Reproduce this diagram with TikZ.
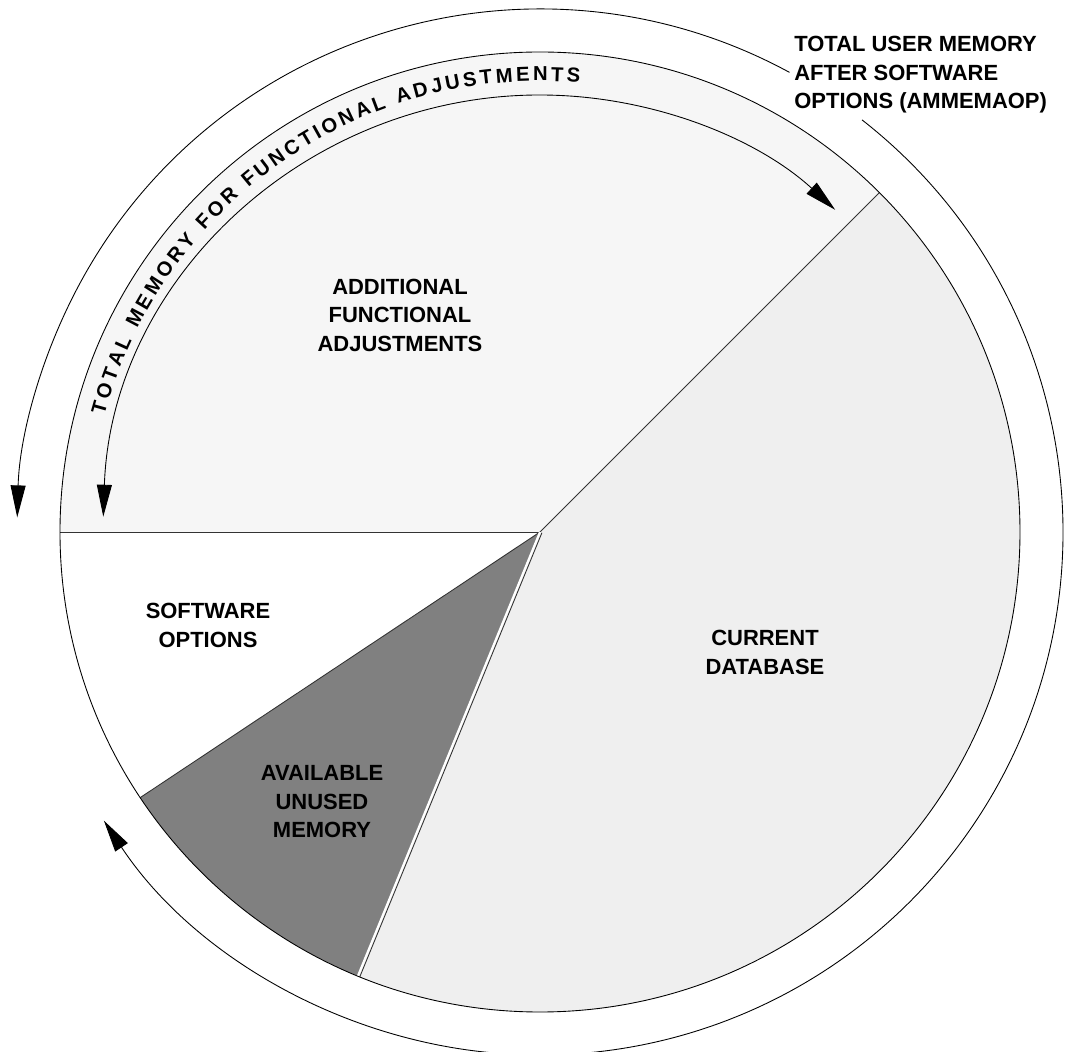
\documentclass[tikz,border=0pt]{standalone}
\usepackage{fontspec}
\setmainfont{Liberation Sans}
\usetikzlibrary{arrows.meta,decorations.text}
\definecolor{adjfill}{HTML}{F6F6F6}
\definecolor{dbfill}{HTML}{EFEFEF}
\definecolor{freefill}{HTML}{808080}
\begin{document}
\begin{tikzpicture}[x=0.2mm,y=0.2mm,
  >={Triangle[length=6.4mm,width=3mm]},
  edge/.style={draw=black!80,line width=0.5pt},
  label/.style={font=\bfseries\fontsize{12.5}{16.2}\selectfont,align=center,inner sep=0pt},
  bracket/.style={line width=0.5pt}]
\useasboundingbox (-540,-520) rectangle (526,532);

\coordinate (O) at (0,0);
\coordinate (e45) at (45:480);
\coordinate (e180) at (180:480);
\coordinate (e214) at (213.6:480);
\coordinate (e248) at (247.7:480);

% pie slices
\fill[adjfill] (O) -- (e45) arc[start angle=45,end angle=180,radius=480] -- cycle;
\fill[white] (O) -- (e180) arc[start angle=180,end angle=213.6,radius=480] -- cycle;
\fill[freefill] (O) -- (e214) arc[start angle=213.6,end angle=247.7,radius=480] -- cycle;
\fill[dbfill] (O) -- (e248) arc[start angle=247.7,end angle=405,radius=480] -- cycle;

\draw[edge] (O) -- (e45);
\draw[edge] (O) -- (e180);
\draw[edge] (O) -- (e214);
\draw[white,line width=1.2pt] (O) -- (e248);
\draw[edge] ([shift={(1.9,-0.8)}]O) -- ([shift={(1.9,-0.8)}]e248);
\draw[line width=0.5pt] (O) circle[radius=480];

% band text and arrows
\path[decorate,decoration={text along path,
  text={|\bfseries\fontsize{11.5}{11.5}\selectfont|TOTAL MEMORY FOR FUNCTIONAL ADJUSTMENTS},
  text align={fit to path}}]
  (165:451) arc[start angle=165,end angle=85,radius=451];
\draw[bracket,<->] (178:437) arc[start angle=178,end angle=47.5,radius=437];

% outer brackets
\draw[bracket,->] (52:523) arc[start angle=52,end angle=-146.5,radius=523];
\draw[bracket,->] (61.5:523) arc[start angle=61.5,end angle=178.4,radius=523];

% labels
\node[label] (adj) at (-140,217) {ADDITIONAL\\FUNCTIONAL\\ADJUSTMENTS};
\node[label] (sw) at (-332,-93.5) {SOFTWARE\\OPTIONS};
\node[label] (db) at (225,-120.5) {CURRENT\\DATABASE};
\node[label] (free) at (-218,-270) {AVAILABLE\\UNUSED\\MEMORY};
\node[label,align=left,anchor=west] (total) at (254,457) {TOTAL USER MEMORY\\AFTER SOFTWARE\\OPTIONS (AMMEMAOP)};
\end{tikzpicture}
\end{document}
